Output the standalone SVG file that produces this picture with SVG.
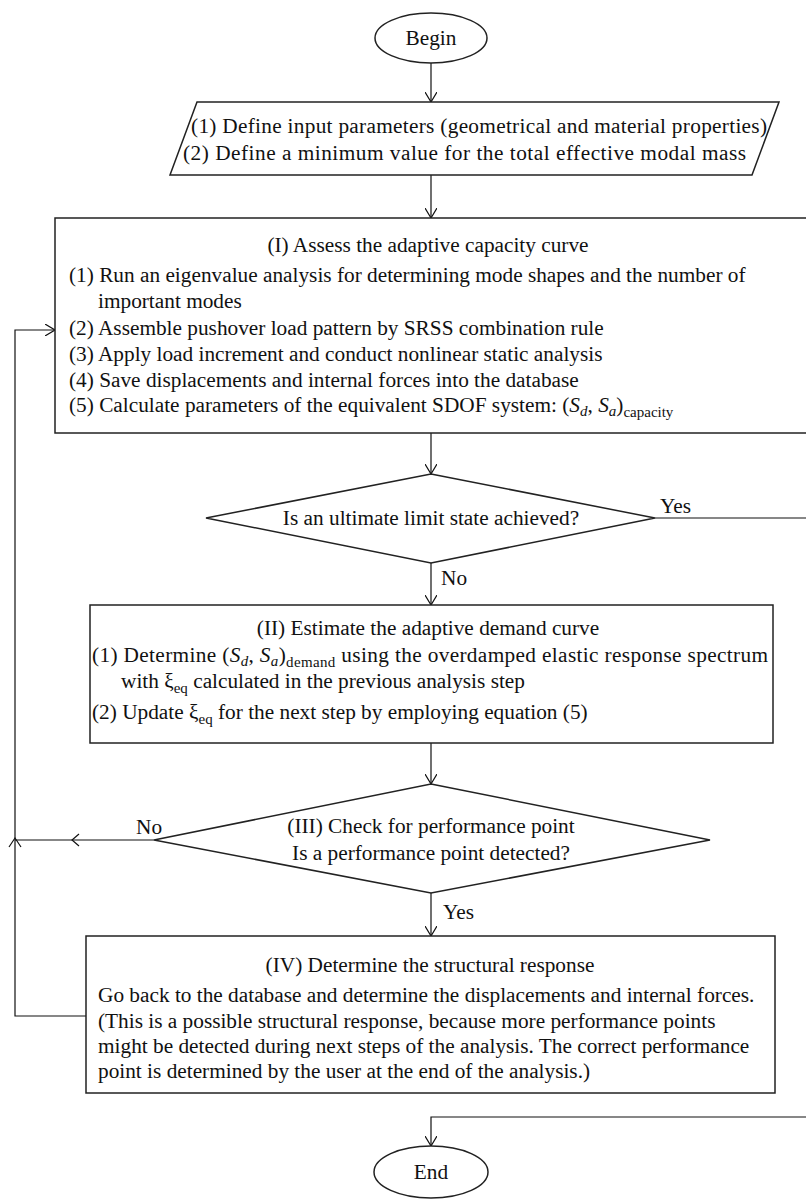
<svg xmlns="http://www.w3.org/2000/svg" width="806" height="1200" viewBox="0 0 806 1200">
<defs>
<style>
text{font-family:"Liberation Serif","Times New Roman",serif;font-size:21.3px;fill:#111}
.c{text-anchor:middle}
.shape{fill:#fff;stroke:#222;stroke-width:1.5}
.con{fill:none;stroke:#111;stroke-width:1.2}
.sub{font-size:15px}
.i{font-style:italic}
</style>
<marker id="ah" viewBox="0 0 10 12" refX="10" refY="6" markerWidth="10" markerHeight="12" orient="auto" markerUnits="userSpaceOnUse">
<path d="M0,0 L10,6 L0,12" fill="none" stroke="#111" stroke-width="1.2"/>
</marker>
</defs>
<rect width="806" height="1200" fill="#fff"/>

<g id="connectors">
<path class="con" d="M431,63 V102" marker-end="url(#ah)"/>
<path class="con" d="M431,175 V218" marker-end="url(#ah)"/>
<path class="con" d="M431,433 V474" marker-end="url(#ah)"/>
<path class="con" d="M655,518 H812"/>
<path class="con" d="M431,563 V605" marker-end="url(#ah)"/>
<path class="con" d="M431,743 V784" marker-end="url(#ah)"/>
<path class="con" d="M154,840 H15"/>
<path class="con" d="M79,834 L72,840 L79,846"/>
<path class="con" d="M431,893 V936" marker-end="url(#ah)"/>
<path class="con" d="M86,1016 H15 V330 H55" marker-end="url(#ah)"/>
<path class="con" d="M9,847 L15,838 L21,847"/>
<path class="con" d="M812,1117 H431 V1146" marker-end="url(#ah)"/>
<text x="660" y="513">Yes</text>
<text x="441" y="585">No</text>
<text x="136" y="834">No</text>
<text x="443" y="919">Yes</text>
</g>

<g id="begin">
<ellipse class="shape" cx="431" cy="38" rx="56" ry="25"/>
<text class="c" x="431" y="45">Begin</text>
</g>

<g id="input">
<polygon class="shape" points="197,102 779,102 752,175 170,175"/>
<text x="191" y="133" textLength="576" lengthAdjust="spacing">(1) Define input parameters (geometrical and material properties)</text>
<text x="183" y="160" textLength="563" lengthAdjust="spacing">(2) Define a minimum value for the total effective modal mass</text>
</g>

<g id="capacity">
<rect class="shape" x="55" y="218" width="770" height="215"/>
<text class="c" x="428" y="252">(I) Assess the adaptive capacity curve</text>
<text x="69" y="282">(1) Run an eigenvalue analysis for determining mode shapes and the number of</text>
<text x="98" y="308">important modes</text>
<text x="69" y="335">(2) Assemble pushover load pattern by SRSS combination rule</text>
<text x="69" y="361">(3) Apply load increment and conduct nonlinear static analysis</text>
<text x="69" y="387">(4) Save displacements and internal forces into the database</text>
<text x="69" y="412">(5) Calculate parameters of the equivalent SDOF system: (<tspan class="i">S</tspan><tspan class="sub i" dy="4">d</tspan><tspan dy="-4">, </tspan><tspan class="i">S</tspan><tspan class="sub i" dy="4">a</tspan><tspan dy="-4">)</tspan><tspan class="sub" dy="5">capacity</tspan></text>
</g>

<g id="ultimate">
<polygon class="shape" points="431,474 655,518 431,563 206,518"/>
<text class="c" x="431" y="525">Is an ultimate limit state achieved?</text>
</g>

<g id="demand">
<rect class="shape" x="90" y="605" width="683" height="138"/>
<text class="c" x="428" y="635">(II) Estimate the adaptive demand curve</text>
<text x="92" y="662" textLength="676" lengthAdjust="spacing">(1) Determine (<tspan class="i">S</tspan><tspan class="sub i" dy="4">d</tspan><tspan dy="-4">, </tspan><tspan class="i">S</tspan><tspan class="sub i" dy="4">a</tspan><tspan dy="-4">)</tspan><tspan class="sub" dy="5">demand</tspan><tspan dy="-5"> using the overdamped elastic response spectrum</tspan></text>
<text x="121" y="688">with ξ<tspan class="sub" dy="5">eq</tspan><tspan dy="-5"> calculated in the previous analysis step</tspan></text>
<text x="92" y="719">(2) Update ξ<tspan class="sub" dy="5">eq</tspan><tspan dy="-5"> for the next step by employing equation (5)</tspan></text>
</g>

<g id="performance">
<polygon class="shape" points="431,784 710,840 431,893 154,840"/>
<text class="c" x="431" y="833">(III) Check for performance point</text>
<text class="c" x="431" y="860">Is a performance point detected?</text>
</g>

<g id="response">
<rect class="shape" x="86" y="936" width="689" height="157"/>
<text class="c" x="430" y="972">(IV) Determine the structural response</text>
<text x="98" y="1002">Go back to the database and determine the displacements and internal forces.</text>
<text x="98" y="1028">(This is a possible structural response, because more performance points</text>
<text x="98" y="1053">might be detected during next steps of the analysis. The correct performance</text>
<text x="98" y="1078">point is determined by the user at the end of the analysis.)</text>
</g>

<g id="end">
<ellipse class="shape" cx="431" cy="1172" rx="57" ry="26"/>
<text class="c" x="431" y="1179">End</text>
</g>
</svg>
